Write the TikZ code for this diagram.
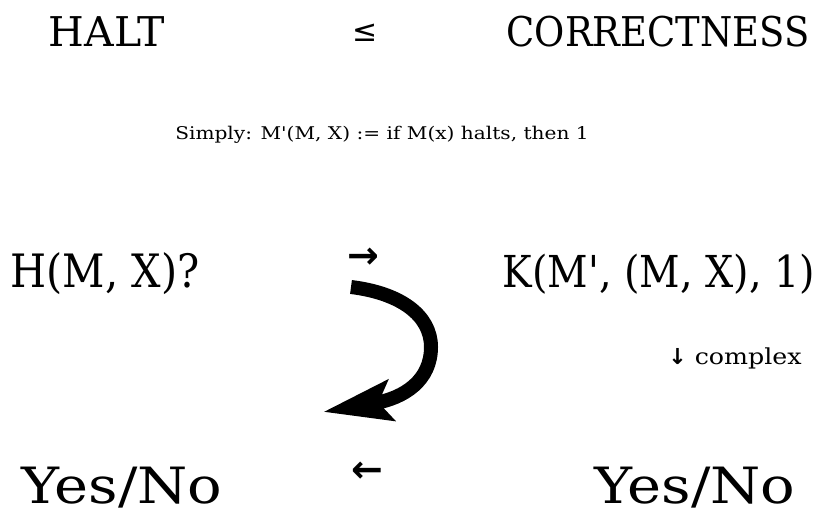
\documentclass[tikz,border=0pt]{standalone}
\usepackage{fontspec}
\setmainfont{DejaVu Serif}
\newfontfamily\capsfont{DejaVu Serif}[FakeStretch=0.9]
\newfontfamily\widefont{DejaVu Serif}[FakeStretch=1.15]
\newfontfamily\symfont{DejaVu Sans}
\usetikzlibrary{arrows.meta}
\tikzset{
  toptext/.style={font=\fontsize{41}{48}\selectfont, inner sep=0pt, anchor=base},
  rowtext/.style={font=\capsfont\fontsize{46}{54}\selectfont, inner sep=0pt, anchor=base},
  answer/.style={font=\widefont\fontsize{50}{58}\selectfont, inner sep=0pt, anchor=base},
  symtext/.style={font=\symfont\fontsize{30}{36}\selectfont, inner sep=0pt},
  arrowtext/.style={font=\symfont\bfseries\fontsize{38}{44}\selectfont, inner sep=0pt},
}
\begin{document}
\begin{tikzpicture}[x=1pt, y=-1pt]
  \useasboundingbox (0,0) rectangle (838,521);
  % top row
  \node[toptext] (halt) at (107,47) {HALT};
  \node[symtext] (leq) at (365,33) {≤};
  \node[toptext, font=\capsfont\fontsize{41}{48}\selectfont] (corr) at (658,47) {CORRECTNESS};
  \node[font=\widefont\fontsize{17.5}{21}\selectfont, inner sep=0pt, anchor=base] (simply) at (382,140) {Simply: M'(M, X) := if M(x) halts, then 1};
  % middle row
  \node[rowtext] (hquery) at (105,288) {H(M, X)?};
  \node[arrowtext] (rarrow) at (363,258) {→};
  \node[rowtext, font=\capsfont\fontsize{44}{52}\selectfont] (kcall) at (659,288) {K(M', (M, X), 1)};
  \node[font=\widefont\fontsize{22}{26}\selectfont, inner sep=0pt, anchor=base] (complex) at (735,364) {{\symfont\bfseries ↓} complex};
  % bottom row
  \node[answer] (yesleft) at (122,503) {Yes/No};
  \node[arrowtext] (larrow) at (367,472) {←};
  \node[answer] (yesright) at (695,503) {Yes/No};
  % curved arrow
  \coordinate (turnstart) at (351,287);
  \coordinate (turnend) at (323,412);
  \draw[line width=14pt, -{Stealth[length=68pt, width=40pt, inset=12pt]}]
    (turnstart) .. controls (400,293) and (431,315) .. (431,347)
    .. controls (431,380) and (405,398) .. (turnend);
\end{tikzpicture}
\end{document}
